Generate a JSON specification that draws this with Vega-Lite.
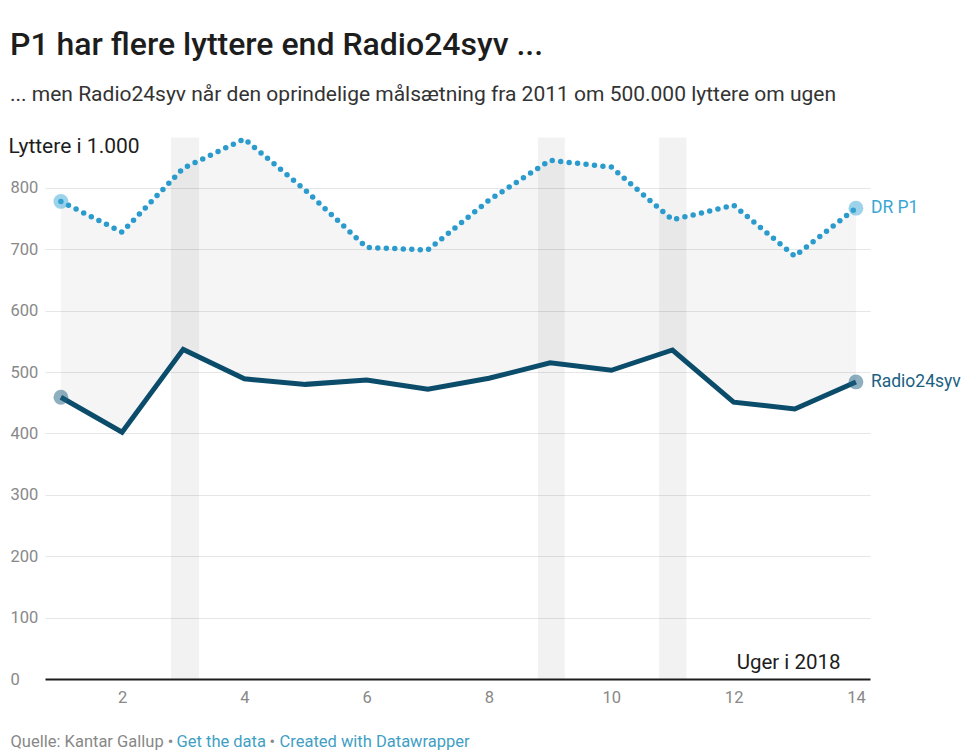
{
  "$schema": "https://vega.github.io/schema/vega-lite/v6.json",
  "width": 825,
  "height": 542,
  "autosize": "none",
  "padding": {"left": 45, "top": 137, "right": 106, "bottom": 76},
  "background": "white",
  "config": {"view": {"stroke": null}, "font": "Roboto"},
  "title": {
    "text": "P1 har flere lyttere end Radio24syv ...",
    "subtitle": "... men Radio24syv når den oprindelige målsætning fra 2011 om 500.000 lyttere om ugen",
    "anchor": "start",
    "frame": "group",
    "dx": -35,
    "offset": 22,
    "font": "Roboto",
    "fontSize": 32,
    "fontWeight": 500,
    "color": "#1d1d1d",
    "subtitleFont": "Roboto",
    "subtitleFontSize": 21,
    "subtitleColor": "#333333",
    "subtitlePadding": 22
  },
  "datasets": {
    "weeks": [
      {"week": 1, "DR P1": 778, "Radio24syv": 459},
      {"week": 2, "DR P1": 728, "Radio24syv": 402},
      {"week": 3, "DR P1": 832, "Radio24syv": 537},
      {"week": 4, "DR P1": 880, "Radio24syv": 489},
      {"week": 5, "DR P1": 796, "Radio24syv": 480},
      {"week": 6, "DR P1": 703, "Radio24syv": 487},
      {"week": 7, "DR P1": 699, "Radio24syv": 472},
      {"week": 8, "DR P1": 780, "Radio24syv": 490},
      {"week": 9, "DR P1": 845, "Radio24syv": 515},
      {"week": 10, "DR P1": 834, "Radio24syv": 503},
      {"week": 11, "DR P1": 748, "Radio24syv": 536},
      {"week": 12, "DR P1": 772, "Radio24syv": 451},
      {"week": 13, "DR P1": 689, "Radio24syv": 440},
      {"week": 14, "DR P1": 767, "Radio24syv": 484}
    ],
    "bands": [
      {"start": 2.8, "end": 3.26},
      {"start": 8.8, "end": 9.24},
      {"start": 10.78, "end": 11.23}
    ]
  },
  "resolve": {"axis": {"x": "independent", "y": "independent"}},
  "layer": [
    {
      "data": {"name": "weeks"},
      "mark": {"type": "area", "color": "#000000", "opacity": 0.04},
      "encoding": {
        "x": {
          "field": "week",
          "type": "quantitative",
          "scale": {"domain": [0.74, 14.23], "nice": false, "zero": false},
          "axis": {
            "orient": "bottom", "domain": false, "ticks": false, "labels": false, "grid": false,
            "title": "Quelle: Kantar Gallup •",
            "titleFont": "Roboto", "titleFontSize": 16.5, "titleFontWeight": "normal", "titleColor": "#888888",
            "titleX": -35, "titleY": 67, "titleAlign": "left", "titleBaseline": "alphabetic", "titleAnchor": null
          }
        },
        "y": {
          "field": "DR P1",
          "type": "quantitative",
          "scale": {"domain": [0, 883], "nice": false},
          "axis": null
        },
        "y2": {"field": "Radio24syv"}
      }
    },
    {
      "data": {"name": "bands"},
      "mark": {"type": "rect", "color": "#000000", "opacity": 0.05},
      "encoding": {
        "x": {
          "field": "start",
          "type": "quantitative",
          "axis": {
            "orient": "bottom",
            "values": [2, 4, 6, 8, 10, 12, 14],
            "grid": false, "ticks": false,
            "domainColor": "#1d1d1d", "domainWidth": 2,
            "labelFont": "Roboto", "labelFontSize": 16.5, "labelColor": "#888888", "labelPadding": 10,
            "title": "Uger i 2018",
            "titleFont": "Roboto", "titleFontSize": 20.5, "titleFontWeight": "normal", "titleColor": "#1d1d1d",
            "titleX": 795, "titleY": -11, "titleAlign": "right", "titleBaseline": "alphabetic", "titleAnchor": null,
            "zindex": 1
          }
        },
        "x2": {"field": "end"},
        "y": {
          "datum": 0,
          "type": "quantitative",
          "axis": {
            "orient": "left",
            "values": [0, 100, 200, 300, 400, 500, 600, 700, 800],
            "grid": true, "gridColor": "#e6e6e6", "gridWidth": 1,
            "domain": false, "ticks": false,
            "labelAlign": "left", "labelPadding": 35,
            "labelFont": "Roboto", "labelFontSize": 16.5, "labelColor": "#888888",
            "title": "Lyttere i 1.000",
            "titleAngle": 0, "titleAlign": "left", "titleBaseline": "alphabetic",
            "titleX": -37, "titleY": 15, "titleAnchor": null,
            "titleFont": "Roboto", "titleFontSize": 21, "titleFontWeight": "normal", "titleColor": "#1d1d1d"
          }
        },
        "y2": {"datum": 882}
      }
    },
    {
      "data": {"name": "weeks"},
      "mark": {"type": "line", "color": "#2a9bcc", "strokeWidth": 5.5, "strokeDash": [0, 8.5], "strokeCap": "round"},
      "encoding": {
        "x": {
          "field": "week",
          "type": "quantitative",
          "axis": {
            "orient": "bottom", "domain": false, "ticks": false, "labels": false, "grid": false,
            "title": "Get the data",
            "titleFont": "Roboto", "titleFontSize": 16.5, "titleFontWeight": "normal", "titleColor": "#3f9fc5",
            "titleX": 131, "titleY": 67, "titleAlign": "left", "titleBaseline": "alphabetic", "titleAnchor": null
          }
        },
        "y": {"field": "DR P1", "type": "quantitative", "axis": null}
      }
    },
    {
      "data": {"name": "weeks"},
      "mark": {"type": "line", "color": "#0b4c6b", "strokeWidth": 5},
      "encoding": {
        "x": {
          "field": "week",
          "type": "quantitative",
          "axis": {
            "orient": "bottom", "domain": false, "ticks": false, "labels": false, "grid": false,
            "title": "•",
            "titleFont": "Roboto", "titleFontSize": 16.5, "titleFontWeight": "normal", "titleColor": "#888888",
            "titleX": 224, "titleY": 67, "titleAlign": "left", "titleBaseline": "alphabetic", "titleAnchor": null
          }
        },
        "y": {"field": "Radio24syv", "type": "quantitative", "axis": null}
      }
    },
    {
      "data": {"name": "weeks"},
      "transform": [
        {"fold": ["DR P1", "Radio24syv"], "as": ["series", "value"]},
        {"filter": "datum.week == 1 || datum.week == 14"}
      ],
      "mark": {"type": "circle", "size": 220, "opacity": 0.5},
      "encoding": {
        "x": {
          "field": "week",
          "type": "quantitative",
          "axis": {
            "orient": "bottom", "domain": false, "ticks": false, "labels": false, "grid": false,
            "title": "Created with Datawrapper",
            "titleFont": "Roboto", "titleFontSize": 16.5, "titleFontWeight": "normal", "titleColor": "#3f9fc5",
            "titleX": 234, "titleY": 67, "titleAlign": "left", "titleBaseline": "alphabetic", "titleAnchor": null
          }
        },
        "y": {"field": "value", "type": "quantitative", "axis": null},
        "color": {
          "field": "series",
          "type": "nominal",
          "scale": {"domain": ["DR P1", "Radio24syv"], "range": ["#3aa6d6", "#1b5f82"]},
          "legend": null
        }
      }
    },
    {
      "data": {"name": "weeks"},
      "transform": [
        {"fold": ["DR P1", "Radio24syv"], "as": ["series", "value"]},
        {"filter": "datum.week == 14"}
      ],
      "mark": {"type": "text", "align": "left", "baseline": "middle", "dx": 15, "fontSize": 17.5, "font": "Roboto"},
      "encoding": {
        "x": {"field": "week", "type": "quantitative", "axis": null},
        "y": {"field": "value", "type": "quantitative", "axis": null},
        "text": {"field": "series"},
        "color": {
          "field": "series",
          "type": "nominal",
          "scale": {"domain": ["DR P1", "Radio24syv"], "range": ["#3aa6d6", "#1b5f82"]},
          "legend": null
        }
      }
    }
  ]
}
